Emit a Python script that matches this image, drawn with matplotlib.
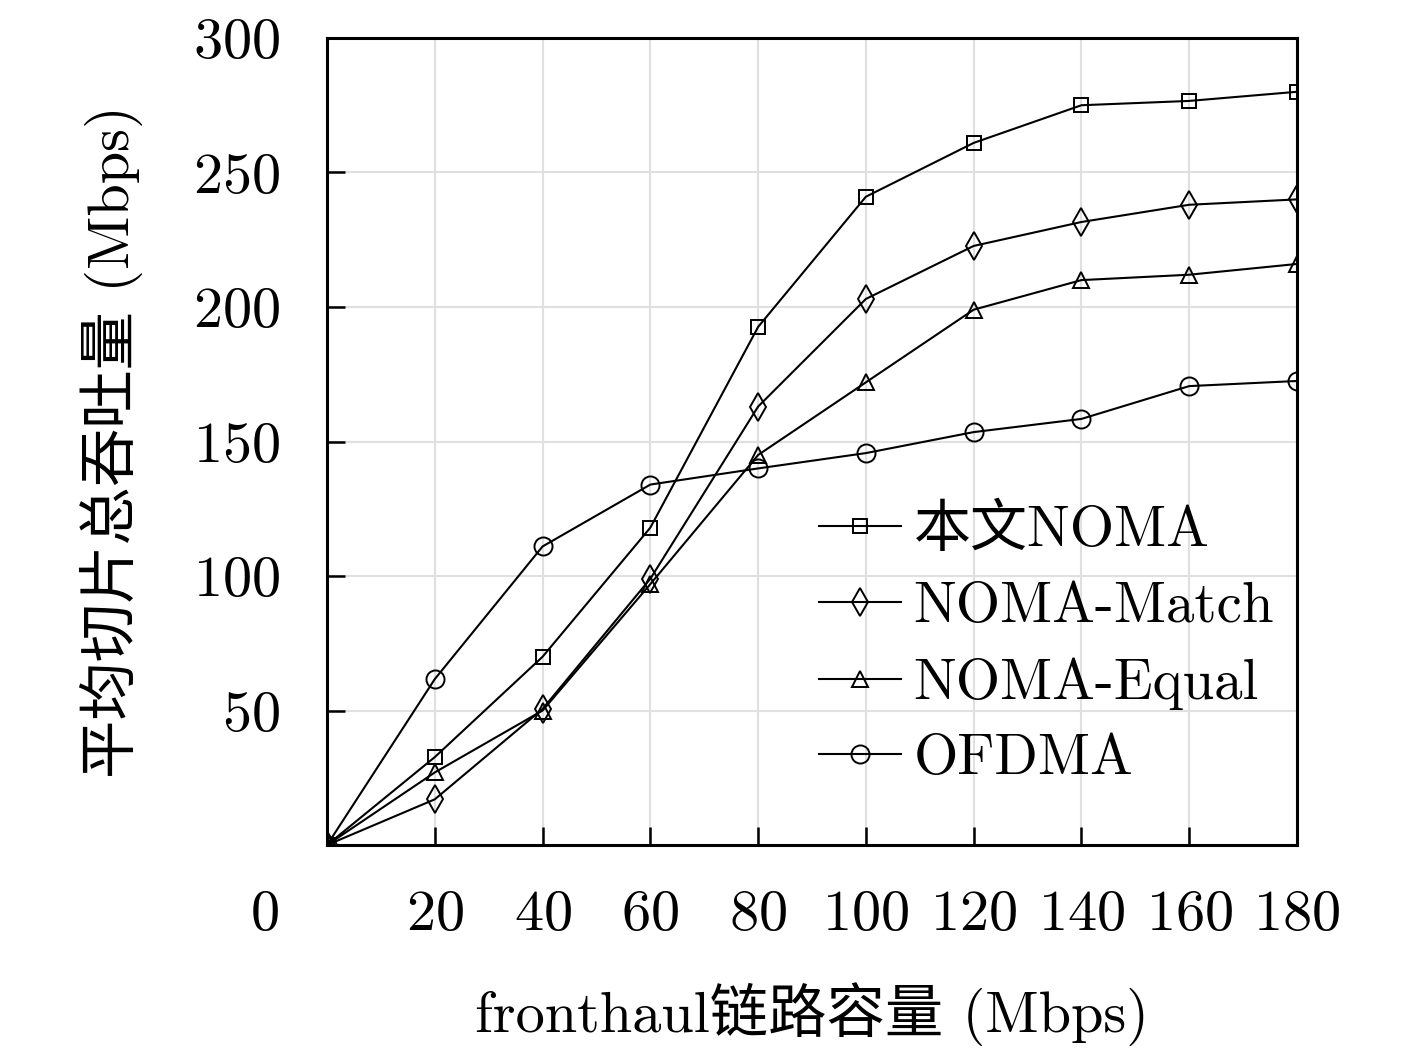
import matplotlib
matplotlib.use("Agg")
import matplotlib.pyplot as plt

plt.rcParams['font.family'] = ['cmr10', 'Noto Sans CJK SC', 'DejaVu Sans']
plt.rcParams['axes.formatter.use_mathtext'] = True

capacity = [0, 20, 40, 60, 80, 100, 120, 140, 160, 180]
noma = [0, 32.7, 70, 118, 192.6, 241, 261, 275, 276.6, 280]
noma_match = [0, 17, 50.6, 99, 163, 203, 222.7, 231.6, 238, 240]
noma_equal = [0, 27, 50, 97, 145, 172, 199, 210, 212, 216]
ofdma = [0, 61.7, 111, 134, 140, 145.7, 153.5, 158.4, 170.6, 172.5]

x_ticks = [20, 40, 60, 80, 100, 120, 140, 160, 180]
y_ticks = [50, 100, 150, 200, 250, 300]

fig = plt.figure(figsize=(14.17, 10.55), dpi=100)
ax = fig.add_axes([0.2308, 0.199, 0.6845, 0.765])

series = [
    (noma, 's', 10, '本文NOMA'),
    (noma_match, 'd', 14, 'NOMA-Match'),
    (noma_equal, '^', 12, 'NOMA-Equal'),
    (ofdma, 'o', 13, 'OFDMA'),
]
for vals, mk, ms, name in series:
    ax.plot(capacity, vals, color='black', linewidth=1.5, marker=mk,
            markersize=ms, markerfacecolor='none', markeredgewidth=1.4,
            label=name)

ax.set_xlim(0, 180)
ax.set_ylim(0, 300)
ax.set_xticks(x_ticks)
ax.set_yticks(y_ticks)
ax.tick_params(direction='in', length=13, width=1.8, labelsize=42, pad=32,
               top=False, right=False)
ax.tick_params(axis='y', pad=34)
ax.grid(True, color='#e0e0e0', linewidth=1.5)
for s in ax.spines.values():
    s.set_linewidth(2.2)

ax.text(-11.5, -26, '0', fontsize=42, ha='center', va='center', clip_on=False)

ax.set_xlabel('fronthaul链路容量 (Mbps)', fontsize=42, labelpad=30)
ax.set_ylabel('平均切片总吞吐量 (Mbps)', fontsize=42, labelpad=36)

ax.legend(loc='lower right', bbox_to_anchor=(1.0, 0.046), frameon=False,
          fontsize=41, handlelength=1.44, handletextpad=0.23,
          labelspacing=0.43, borderaxespad=0.0)

fig.savefig('out.png', dpi=100, facecolor='white')
